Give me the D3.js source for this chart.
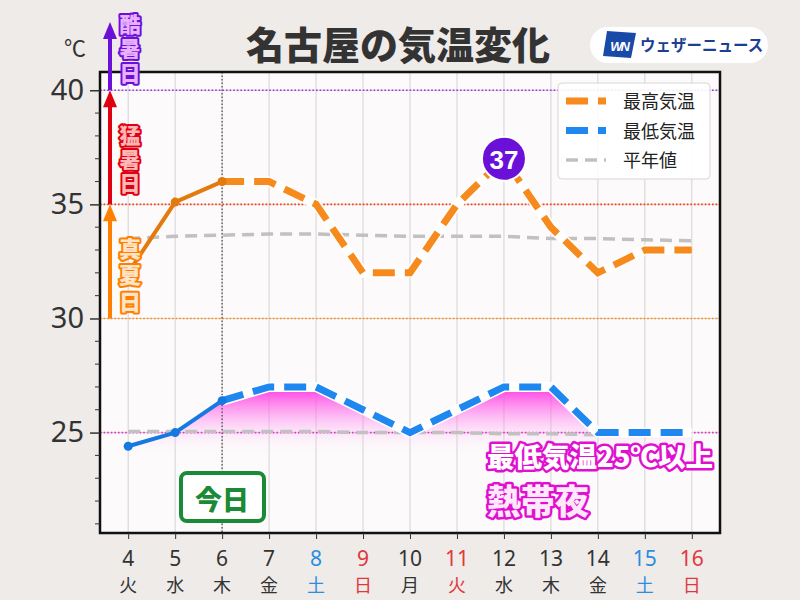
<!DOCTYPE html>
<html>
<head>
<meta charset="utf-8">
<script src="https://cdn.jsdelivr.net/npm/d3@7"></script>
<style>
  body { margin: 0; background: #eeebe9; }
  svg { display: block; font-family: "Noto Sans CJK JP", "Noto Sans", sans-serif; }
</style>
</head>
<body>
<script>
//=========================== data ============================================

var days      = ["4","5","6","7","8","9","10","11","12","13","14","15","16"];
var weekdays  = ["火","水","木","金","土","日","月","火","水","木","金","土","日"];
var dayColors = ["#333","#333","#333","#333","#2b8ee0","#e0383c","#333","#e0383c","#333","#333","#333","#2b8ee0","#e0383c"];
var maxTemp   = [32.0, 35.1, 36, 36, 35, 32, 32, 35, 37, 34, 32, 33, 33];
var minTemp   = [24.4, 25.0, 26.4, 27, 27, 26, 25, 26, 27, 27, 25, 25, 25];
var maxNormal = [33.5, 33.6, 33.65, 33.7, 33.7, 33.65, 33.6, 33.6, 33.6, 33.5, 33.5, 33.45, 33.4];
var minNormal = [25.05, 25.05, 25.05, 25.05, 25.05, 25.0, 25.0, 25.0, 24.95, 24.95, 24.9, 24.9, 24.9];
var todayIndex = 2;
var yTicks    = [25, 30, 35, 40];
var thresholds = [
    {v: 25, color: "#e830d0"},
    {v: 30, color: "#ff8a10"},
    {v: 35, color: "#ff3a10"},
    {v: 40, color: "#a030f0"}
];

//=========================== layout ==========================================

var W = 800, H = 600;
var L = 100, R = 720, T = 72, B = 533;

var svg = d3.select("body").append("svg")
    .attr("width", W).attr("height", H);

var x = d3.scalePoint().domain(days).range([L, R]).padding(0.6);
var y = d3.scaleLinear().domain([20.6, 40.8]).range([B, T]);

var defs = svg.append("defs");
var grad = defs.append("linearGradient")
    .attr("id", "pinkfill")
    .attr("gradientUnits", "userSpaceOnUse")
    .attr("x1", 0).attr("x2", 0)
    .attr("y1", y(27)).attr("y2", y(24));
grad.append("stop").attr("offset", 0).attr("stop-color", "#ff30e0").attr("stop-opacity", 0.95);
grad.append("stop").attr("offset", 0.5).attr("stop-color", "#ff70ee").attr("stop-opacity", 0.35);
grad.append("stop").attr("offset", 1).attr("stop-color", "#ffffff").attr("stop-opacity", 0);

// plot background
svg.append("rect")
    .attr("x", L).attr("y", T).attr("width", R - L).attr("height", B - T)
    .attr("fill", "#fcfafa");

// vertical grid
svg.append("g").selectAll("line").data(days).join("line")
    .attr("x1", d => x(d)).attr("x2", d => x(d))
    .attr("y1", T).attr("y2", B)
    .attr("stroke", "#d4d2d2").attr("stroke-width", 1);

// horizontal grid
svg.append("g").selectAll("line").data(yTicks).join("line")
    .attr("x1", L).attr("x2", R)
    .attr("y1", d => y(d)).attr("y2", d => y(d))
    .attr("stroke", "#d4d2d2").attr("stroke-width", 1);

// pink tropical-night fill
var area = d3.area()
    .x((d, i) => x(days[i]))
    .y0(y(23.5))
    .y1(d => y(d));
svg.append("path")
    .datum(minTemp)
    .attr("d", area)
    .attr("fill", "url(#pinkfill)");

// threshold lines
svg.append("g").selectAll("line").data(thresholds).join("line")
    .attr("x1", L).attr("x2", R)
    .attr("y1", d => y(d.v)).attr("y2", d => y(d.v))
    .attr("stroke", d => d.color)
    .attr("stroke-width", 1.6)
    .attr("stroke-dasharray", "1.6,2");

// today line
svg.append("line")
    .attr("x1", x(days[todayIndex])).attr("x2", x(days[todayIndex]))
    .attr("y1", T).attr("y2", B)
    .attr("stroke", "#666").attr("stroke-width", 1.5)
    .attr("stroke-dasharray", "1.5,2");

// normal lines
var line = d3.line().x((d, i) => x(days[i])).y(d => y(d));
[maxNormal, minNormal].forEach(function(s) {
    svg.append("path")
        .datum(s)
        .attr("d", line)
        .attr("fill", "none")
        .attr("stroke", "#c2c0c0")
        .attr("stroke-width", 3.5)
        .attr("stroke-dasharray", "12,7");
});

//=========================== temperature lines ===============================

function drawSeries(vals, solidColor, dashColor) {
    var pts = vals.map((v, i) => [x(days[i]), y(v)]);
    var past = pts.slice(0, todayIndex + 1);
    var future = pts.slice(todayIndex);
    var lg = d3.line();

    svg.append("path")
        .attr("d", lg(future))
        .attr("fill", "none")
        .attr("stroke", "#fff")
        .attr("stroke-width", 10)
        .attr("stroke-linejoin", "round");
    svg.append("path")
        .attr("d", lg(future))
        .attr("fill", "none")
        .attr("stroke", dashColor)
        .attr("stroke-width", 7)
        .attr("stroke-dasharray", "22,10");

    svg.append("path")
        .attr("d", lg(past))
        .attr("fill", "none")
        .attr("stroke", solidColor)
        .attr("stroke-width", 4)
        .attr("stroke-linejoin", "round");
    svg.append("g").selectAll("circle").data(past).join("circle")
        .attr("cx", d => d[0]).attr("cy", d => d[1])
        .attr("r", 4.5)
        .attr("fill", solidColor);
}

drawSeries(maxTemp, "#e27a0e", "#f78a1d");
drawSeries(minTemp, "#1679e0", "#1e88f0");

// frame
svg.append("rect")
    .attr("x", L).attr("y", T).attr("width", R - L).attr("height", B - T)
    .attr("fill", "none")
    .attr("stroke", "#111").attr("stroke-width", 2.5);

//=========================== axes ============================================

var yAxis = d3.axisLeft(y).tickValues(yTicks).tickSize(10).tickPadding(6);
var gy = svg.append("g").attr("transform", "translate(" + L + ",0)").call(yAxis);
gy.select(".domain").remove();
gy.selectAll("line").attr("stroke", "#333").attr("stroke-width", 1.5);
gy.selectAll("text")
    .attr("font-size", 29)
    .attr("fill", "#333")
    .attr("font-family", "'Noto Sans', sans-serif");

var minorTicks = d3.range(21, 41).filter(v => yTicks.indexOf(v) < 0);
svg.append("g").selectAll("line").data(minorTicks).join("line")
    .attr("x1", L - 5).attr("x2", L)
    .attr("y1", d => y(d)).attr("y2", d => y(d))
    .attr("stroke", "#333").attr("stroke-width", 1);

var xAxis = d3.axisBottom(x).tickSize(6).tickFormat("");
var gx = svg.append("g").attr("transform", "translate(0," + B + ")").call(xAxis);
gx.select(".domain").remove();
gx.selectAll("line").attr("stroke", "#333");

svg.append("g").selectAll("text").data(days).join("text")
    .attr("x", d => x(d)).attr("y", 566)
    .attr("text-anchor", "middle")
    .attr("font-size", 21)
    .attr("font-family", "'Noto Sans', sans-serif")
    .attr("fill", (d, i) => dayColors[i])
    .text(d => d);

svg.append("g").selectAll("text").data(weekdays).join("text")
    .attr("x", (d, i) => x(days[i])).attr("y", 592)
    .attr("text-anchor", "middle")
    .attr("font-size", 18)
    .attr("fill", (d, i) => dayColors[i])
    .text(d => d);

svg.append("text")
    .attr("x", 75).attr("y", 56)
    .attr("text-anchor", "middle")
    .attr("font-size", 22)
    .attr("fill", "#333")
    .text("℃");

//=========================== title & logo ====================================

svg.append("text")
    .attr("x", 398).attr("y", 59)
    .attr("text-anchor", "middle")
    .attr("font-size", 38)
    .attr("font-weight", 900)
    .attr("fill", "#333")
    .text("名古屋の気温変化");

svg.append("rect")
    .attr("x", 590).attr("y", 27).attr("width", 178).attr("height", 36)
    .attr("rx", 18)
    .attr("fill", "#fff");
svg.append("path")
    .attr("d", "M607,31 L636,33 L631,58 L603,56 Z")
    .attr("fill", "#1a4aa8");
svg.append("text")
    .attr("x", 619).attr("y", 51)
    .attr("text-anchor", "middle")
    .attr("font-size", 13)
    .attr("font-weight", "bold")
    .attr("font-style", "italic")
    .attr("fill", "#fff")
    .attr("font-family", "'Liberation Sans', sans-serif")
    .attr("letter-spacing", -2)
    .text("WN");
svg.append("text")
    .attr("x", 640).attr("y", 51)
    .attr("font-size", 15.5)
    .attr("font-weight", "bold")
    .attr("fill", "#1c3f94")
    .text("ウェザーニュース");

//=========================== legend ==========================================

var lg = svg.append("g");
lg.append("rect")
    .attr("x", 558).attr("y", 83).attr("width", 152).attr("height", 96)
    .attr("rx", 4)
    .attr("fill", "#fff").attr("fill-opacity", 0.9)
    .attr("stroke", "#d8d6d6");
var legendItems = [
    {name: "最高気温", color: "#f78a1d", w: 7, dash: "22,10"},
    {name: "最低気温", color: "#1e88f0", w: 7, dash: "22,10"},
    {name: "平年値",   color: "#c2c0c0", w: 3.5, dash: "12,7"}
];
legendItems.forEach(function(d, i) {
    var yy = 101 + i * 29.5;
    lg.append("line")
        .attr("x1", 566).attr("x2", 606)
        .attr("y1", yy).attr("y2", yy)
        .attr("stroke", d.color).attr("stroke-width", d.w)
        .attr("stroke-dasharray", d.dash);
    lg.append("text")
        .attr("x", 623).attr("y", yy + 7)
        .attr("font-size", 18)
        .attr("fill", "#222")
        .text(d.name);
});

//=========================== annotations =====================================

function arrow(y0, y1, color) {
    svg.append("line")
        .attr("x1", 110).attr("x2", 110)
        .attr("y1", y0).attr("y2", y1 + 14)
        .attr("stroke", color).attr("stroke-width", 4);
    svg.append("path")
        .attr("d", "M110," + y1 + " L117," + (y1 + 17) + " L103," + (y1 + 17) + " Z")
        .attr("fill", color);
}
arrow(y(30), y(35), "#ff8000");
arrow(y(35), y(40), "#e00010");
arrow(y(40), 22, "#6a10d8");

// vertical labels, one text each, written top to bottom
function vertLabel(label, cy, fill, stroke, size, spacing) {
    svg.append("text")
        .attr("x", 130).attr("y", cy)
        .style("writing-mode", "vertical-rl")
        .attr("text-anchor", "middle")
        .attr("font-size", size)
        .attr("font-weight", 900)
        .attr("letter-spacing", spacing)
        .attr("fill", fill)
        .attr("stroke", stroke)
        .attr("stroke-width", 4)
        .attr("stroke-linejoin", "round")
        .attr("paint-order", "stroke")
        .text(label);
}
vertLabel("真夏日", 277, "#ffe3c6", "#ff8000", 22, 4.5);
vertLabel("猛暑日", 161, "#ffb6b6", "#e00010", 21, 3);
vertLabel("酷暑日", 50, "#e8b0ff", "#6a10d8", 21, 3.5);

// 37 badge
var peak = maxTemp.indexOf(d3.max(maxTemp));
svg.append("circle")
    .attr("cx", x(days[peak])).attr("cy", y(maxTemp[peak]))
    .attr("r", 22)
    .attr("fill", "#6a10d8")
    .attr("stroke", "#fff").attr("stroke-width", 2);
svg.append("text")
    .attr("x", x(days[peak])).attr("y", y(maxTemp[peak]) + 1)
    .attr("text-anchor", "middle")
    .attr("dominant-baseline", "central")
    .attr("font-size", 26)
    .attr("font-weight", "bold")
    .attr("font-family", "'Liberation Sans', Arial, sans-serif")
    .attr("fill", "#fff")
    .text(d3.max(maxTemp));

// today box
svg.append("rect")
    .attr("x", 181).attr("y", 473).attr("width", 83).attr("height", 48)
    .attr("rx", 6)
    .attr("fill", "#fff")
    .attr("stroke", "#1a8a36").attr("stroke-width", 4);
svg.append("text")
    .attr("x", 222).attr("y", 498)
    .attr("text-anchor", "middle")
    .attr("dominant-baseline", "central")
    .attr("font-size", 27)
    .attr("font-weight", 900)
    .attr("fill", "#1a8a36")
    .text("今日");

// tropical night label
function heatText(str, yy, size, fill) {
    svg.append("text")
        .attr("x", 487).attr("y", yy)
        .attr("font-size", size)
        .attr("font-weight", 900)
        .attr("fill", fill)
        .attr("stroke", "#e010d0").attr("stroke-width", 5)
        .attr("stroke-linejoin", "round")
        .attr("paint-order", "stroke")
        .text(str);
}
heatText("最低気温25℃以上", 467, 27.5, "#fff");
heatText("熱帯夜", 514, 34, "#ffe8fb");
</script>
</body>
</html>
